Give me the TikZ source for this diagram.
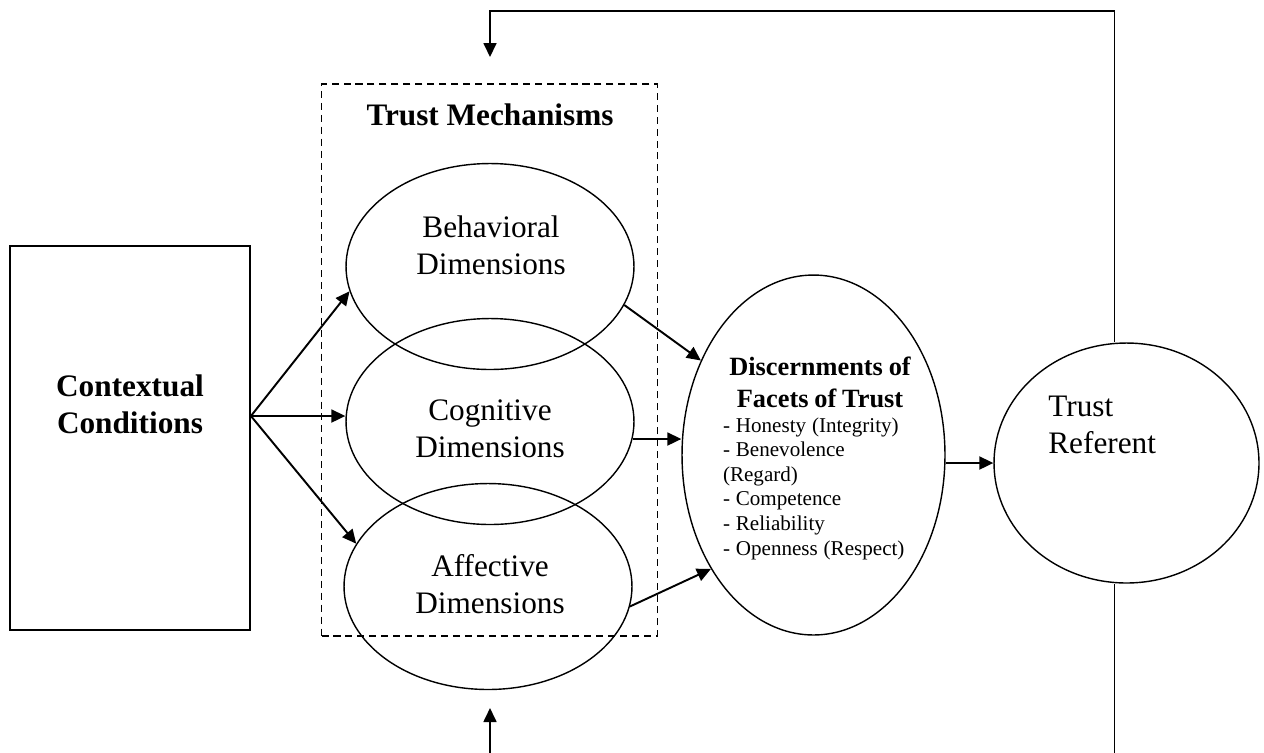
\documentclass[tikz,border=0pt]{standalone}
\usepackage{fontspec}
\setmainfont{Liberation Serif}
\usetikzlibrary{shapes.geometric,arrows.meta,positioning}
\tikzset{
  ctxbox/.style={draw, line width=1.1pt, minimum width=4.8cm, minimum height=7.68cm, inner sep=0pt},
  mechbox/.style={draw, dash pattern=on 4pt off 2.8pt, line width=0.7pt, minimum width=6.72cm, minimum height=11.04cm, inner sep=0pt},
  dimell/.style={ellipse, draw, line width=0.8pt, minimum width=5.76cm, minimum height=4.12cm, inner sep=0pt},
  facetell/.style={ellipse, draw, line width=0.8pt, minimum width=5.26cm, minimum height=7.2cm, inner sep=0pt},
  refcirc/.style={ellipse, draw, line width=0.8pt, minimum width=5.3cm, minimum height=4.8cm, inner sep=0pt},
  lab/.style={inner sep=0pt, align=center, font=\fontsize{17.8}{21}\selectfont},
  labb/.style={lab, font=\fontsize{17.8}{21}\selectfont\bfseries},
  arr/.style={-{Triangle[length=0.28cm,width=0.26cm]}, line width=1.1pt},
  fbline/.style={arr, line width=1pt},
}

\begin{document}
\begin{tikzpicture}[x=0.02cm,y=-0.02cm]
\useasboundingbox (0,0) rectangle (1264,752);
\clip (0,0) rectangle (1264,752);
% boxes and ellipses
\node[ctxbox] (ctx) at (130,438) {};
\node[mechbox] (mech) at (489.5,360) {};
\node[dimell] (beh) at (490,266.5) {};
\node[dimell] (cog) at (490,421.5) {};
\node[dimell] (aff) at (488,586.5) {};
\node[facetell] (dis) at (813.5,455) {};
\node[refcirc] (ref) at (1126.5,463) {};
% texts
\node[labb] (mechtitle) at (490,114.5) {Trust Mechanisms};
\node[labb] (ctxtxt) at (130,404) {Contextual\\Conditions};
\node[lab] (behtxt) at (491,245.5) {Behavioral\\Dimensions};
\node[lab] (cogtxt) at (490,429) {Cognitive\\Dimensions};
\node[lab] (afftxt) at (490,584.5) {Affective\\Dimensions};
\node[anchor=north, inner sep=0pt, text width=3.88cm] (distxt) at (820,357)
  {{\fontsize{15}{18}\selectfont\bfseries\centering Discernments of\\ Facets of Trust\par}%
   {\fontsize{12}{14}\selectfont\raggedright - Honesty (Integrity)\\ - Benevolence\\ (Regard)\\ - Competence\\ - Reliability\\ - Openness (Respect)\par}};
\node[lab, align=left, anchor=north west] (reftxt) at (1048,396) {Trust\\Referent};
% arrows
\coordinate (fan) at ([yshift=0.44cm]ctx.east);
\draw[arr] (fan) -- (beh.190);
\draw[arr] (fan) -- (fan -| cog.west);
\draw[arr] (fan) -- (aff.162);
\draw[arr] (beh.-16) -- (dis.140);
\draw[arr] (cog.-7) -- (cog.-7 -| dis.west);
\draw[arr] (aff.-8) -- (dis.228);
\draw[arr] (ref.west -| dis.east) -- (ref.west);
% feedback loops
\coordinate (topin) at (490,57);
\coordinate (botin) at (490,708);
\draw[fbline] ([xshift=-0.24cm]ref.north) |- (topin |- 0,11) -- (topin);
\draw[fbline] ([xshift=-0.24cm]ref.south) |- (botin |- 0,770) -- (botin);
\end{tikzpicture}
\end{document}
